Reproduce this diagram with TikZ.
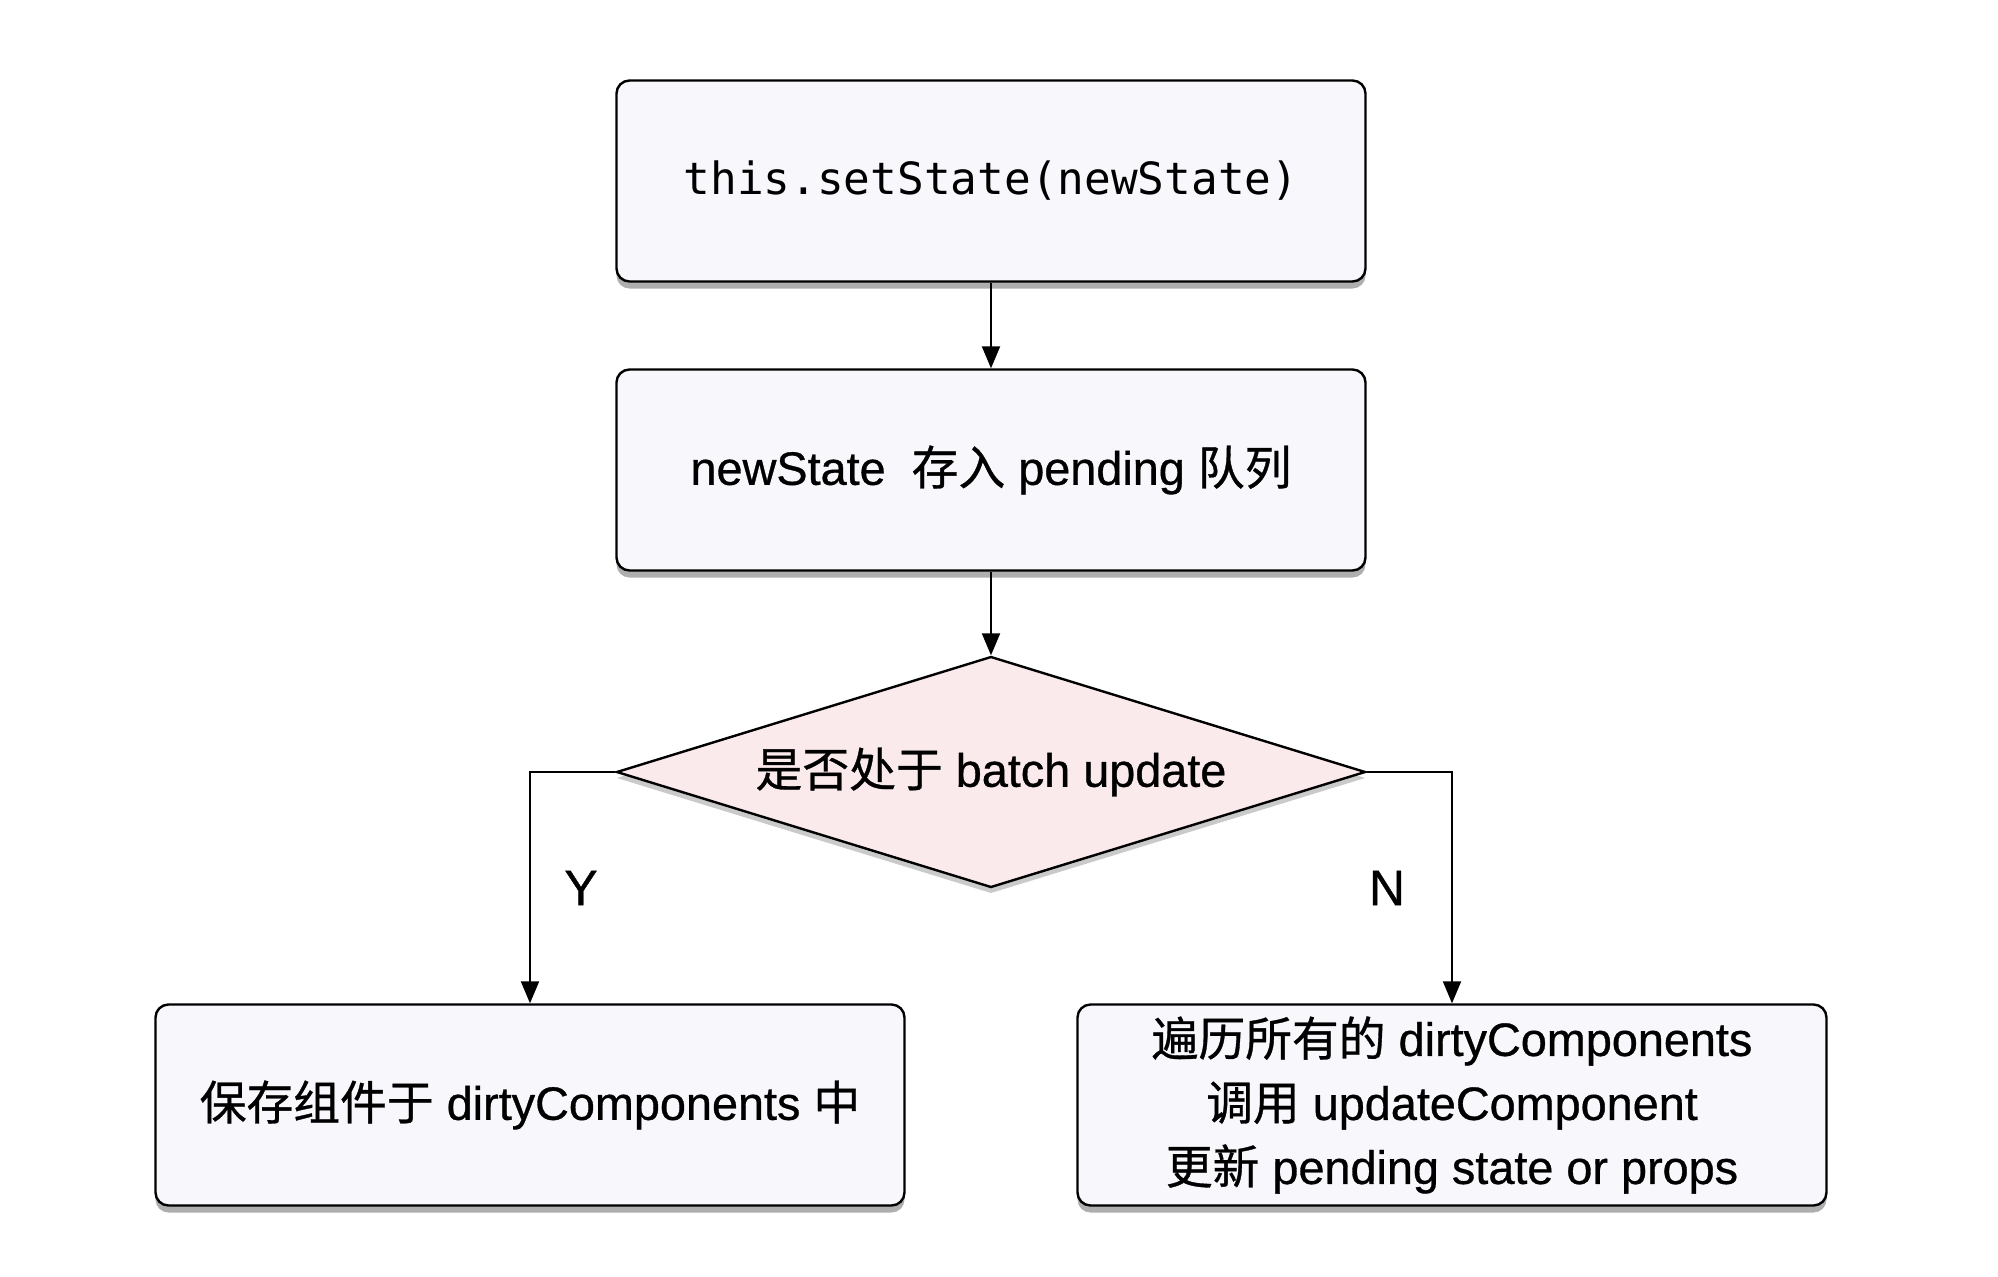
\documentclass[tikz,border=0pt]{standalone}
\usepackage{fontspec}
\setmainfont{Liberation Sans}[FakeBold=0.7]
\setmonofont{DejaVu Sans Mono}
\newfontfamily\cjk{Noto Sans CJK SC}[FakeBold=0.7]
\newcommand{\zh}[1]{{\cjk #1}}
\usetikzlibrary{shapes.geometric, arrows.meta, shadows}

\definecolor{boxfill}{RGB}{247,247,252}
\definecolor{diafill}{RGB}{251,234,236}

\tikzset{
  flowbox/.style={draw=black, line width=1.2pt, fill=boxfill, rounded corners=6.5pt,
    minimum width=374.5pt, minimum height=100.5pt, align=center,
    font=\fontsize{23.4pt}{32pt}\selectfont,
    drop shadow={shadow xshift=0pt, shadow yshift=-3.5pt, opacity=.45, fill=black!70}},
  decision/.style={diamond, aspect=3.24, draw=black, line width=1.2pt, fill=diafill, inner sep=0pt,
    minimum width=374.5pt, minimum height=115.5pt,
    font=\fontsize{23.4pt}{32pt}\selectfont,
    drop shadow={shadow xshift=0pt, shadow yshift=-3pt, opacity=.35, fill=black!60}},
  flow/.style={line width=1pt, -{Triangle[width=9pt,length=11pt]}},
  branch/.style={font=\fontsize{25pt}{30pt}\selectfont}
}

\begin{document}
\begin{tikzpicture}[x=0.5pt, y=-0.5pt]
  \useasboundingbox (0,0) rectangle (1998,1276);
  % main column
  \node[flowbox, font=\ttfamily\fontsize{22.2pt}{28pt}\selectfont] (set) at (991,181) {this.setState(newState)};
  \node[flowbox] (pend) at (991,470) {newState\ \ \zh{存入} pending \zh{队列}};
  \node[decision] (batch) at (991,772) {\zh{是否处于} batch update};
  % branches
  \node[flowbox] (keep) at (530,1105) {\zh{保存组件于} dirtyComponents \zh{中}};
  \node[flowbox] (loop) at (1452,1105) {\zh{遍历所有的} dirtyComponents\\
    \zh{调用} updateComponent\\
    \zh{更新} pending state or props};
  % connectors
  \draw[flow] (set) -- (pend);
  \draw[flow] (pend) -- (batch);
  \draw[flow] (batch.west) -| (keep.north);
  \draw[flow] (batch.east) -| (loop.north);
  \node[branch] (yes) at (581,888) {Y};
  \node[branch] (no) at (1387,888) {N};
\end{tikzpicture}
\end{document}
